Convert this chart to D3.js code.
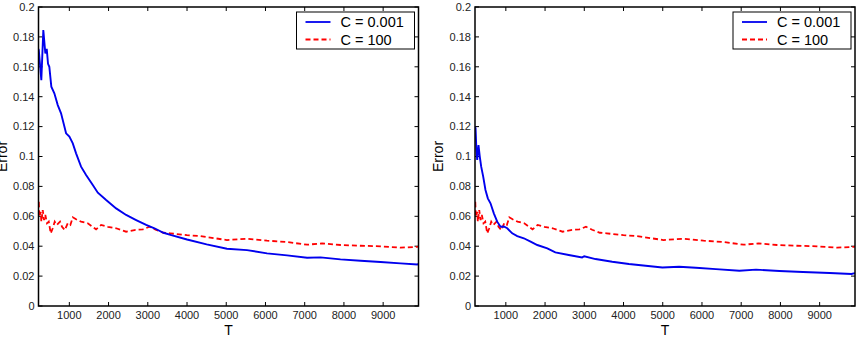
<!DOCTYPE html>
<html>
<head>
<meta charset="utf-8">
<script src="https://cdn.jsdelivr.net/npm/d3@7"></script>
<style>
  body { margin: 0; background: #fff; }
  svg { display: block; font-family: "Liberation Sans", Arial, sans-serif; }
</style>
</head>
<body>
<div id="chart"></div>
<script>
// T values and error
const leftBlueT = [214, 222, 286, 337, 388, 424, 457, 490, 541, 618, 705, 789, 917, 1001, 1088, 1172, 1299, 1427, 1598, 1726, 1938, 2193, 2448, 2703, 2958, 3170, 3400, 3600, 4000, 4500, 5018, 5529, 6040, 6551, 7061, 7402, 7912, 8423, 8934, 9444, 9870, 9901];
const leftBlueErr = [0.172, 0.171, 0.151, 0.1846, 0.169, 0.172, 0.162, 0.160, 0.1467, 0.1423, 0.1344, 0.1289, 0.1155, 0.1133, 0.1088, 0.1021, 0.0932, 0.0876, 0.0809, 0.0758, 0.0709, 0.0653, 0.0609, 0.0575, 0.0542, 0.052, 0.049, 0.0474, 0.0445, 0.0412, 0.0383, 0.0374, 0.0352, 0.0339, 0.0323, 0.0325, 0.0312, 0.0303, 0.0294, 0.0285, 0.0278, 0.0283];

const rightBlueT = [214, 228, 250, 270, 303, 336, 372, 423, 481, 541, 609, 694, 780, 865, 949, 1036, 1163, 1291, 1459, 1631, 1802, 2057, 2262, 2603, 2944, 3000, 3286, 3712, 4138, 4565, 4991, 5418, 5844, 6356, 6953, 7379, 7976, 8573, 9256, 9810, 9901];
const rightBlueErr = [0.12, 0.119, 0.1043, 0.0977, 0.1077, 0.0999, 0.0932, 0.0865, 0.0776, 0.072, 0.0687, 0.062, 0.0564, 0.053, 0.0532, 0.052, 0.0486, 0.0468, 0.0453, 0.043, 0.0408, 0.0386, 0.0359, 0.0341, 0.0325, 0.0333, 0.0314, 0.0296, 0.0281, 0.0269, 0.0258, 0.0263, 0.0256, 0.0247, 0.0236, 0.0243, 0.0234, 0.0227, 0.0221, 0.0214, 0.022];

const redT = [214, 222, 235, 271, 286, 322, 355, 388, 431, 475, 526, 577, 628, 679, 763, 814, 883, 960, 1026, 1088, 1172, 1299, 1470, 1682, 1810, 1981, 2193, 2448, 2660, 2875, 3043, 3200, 3400, 3572, 3997, 4338, 5018, 5529, 6040, 6551, 7061, 7444, 7912, 8423, 8934, 9444, 9870, 9901];
const redErr = [0.0691, 0.0691, 0.0597, 0.063, 0.0564, 0.0642, 0.0575, 0.0609, 0.0553, 0.0564, 0.0486, 0.052, 0.0564, 0.0542, 0.0564, 0.053, 0.0508, 0.0553, 0.0542, 0.0593, 0.058, 0.0564, 0.0553, 0.0513, 0.0542, 0.053, 0.052, 0.0497, 0.0508, 0.0513, 0.053, 0.051, 0.049, 0.0486, 0.0474, 0.0468, 0.0441, 0.045, 0.0437, 0.0428, 0.041, 0.0419, 0.0408, 0.0403, 0.0399, 0.039, 0.0396, 0.0398];

const xTicks = [1000, 2000, 3000, 4000, 5000, 6000, 7000, 8000, 9000];
const yTicks = [0, 0.02, 0.04, 0.06, 0.08, 0.1, 0.12, 0.14, 0.16, 0.18, 0.2];
const legendLabels = ["C = 0.001", "C = 100"];

const width = 380, height = 299;

const svg = d3.select("#chart")
  .append("svg")
    .attr("width", 860)
    .attr("height", 338);

const x = d3.scaleLinear().domain([214, 9901]).range([0, width]);
const y = d3.scaleLinear().domain([0, 0.2]).range([height, 0]);

function toPoints(ts, vs) {
  return ts.map((t, i) => ({t: t, v: vs[i]}));
}

const line = d3.line()
  .x(d => x(d.t))
  .y(d => y(d.v));

function drawPanel(left, id, blueT, blueErr) {
  const g = svg.append("g")
    .attr("transform", `translate(${left},7)`);

  g.append("clipPath").attr("id", id)
    .append("rect").attr("width", width).attr("height", height);

  // tick labels
  g.append("g").selectAll("text")
    .data(yTicks)
    .join("text")
      .attr("x", -4)
      .attr("y", d => y(d))
      .attr("dy", "0.35em")
      .attr("text-anchor", "end")
      .attr("font-size", 11)
      .attr("fill", "#222")
      .text(d => d3.format("")(d));

  g.append("g").selectAll("text")
    .data(xTicks)
    .join("text")
      .attr("x", d => x(d))
      .attr("y", height + 13)
      .attr("text-anchor", "middle")
      .attr("font-size", 11)
      .attr("fill", "#222")
      .text(d => d);

  // inside ticks on all four sides
  const tk = g.append("g").attr("stroke", "#000").attr("stroke-width", 1);
  tk.selectAll(".xb").data(xTicks).join("line")
    .attr("x1", d => x(d)).attr("x2", d => x(d))
    .attr("y1", height).attr("y2", height - 4);
  tk.selectAll(".xt").data(xTicks).join("line")
    .attr("x1", d => x(d)).attr("x2", d => x(d))
    .attr("y1", 0).attr("y2", 4);
  tk.selectAll(".yl").data(yTicks).join("line")
    .attr("x1", 0).attr("x2", 4)
    .attr("y1", d => y(d)).attr("y2", d => y(d));
  tk.selectAll(".yr").data(yTicks).join("line")
    .attr("x1", width).attr("x2", width - 4)
    .attr("y1", d => y(d)).attr("y2", d => y(d));

  // lines
  const lines = g.append("g").attr("clip-path", `url(#${id})`);
  lines.append("path")
    .datum(toPoints(redT, redErr))
    .attr("fill", "none")
    .attr("stroke", "#ff0000")
    .attr("stroke-width", 1.8)
    .attr("stroke-dasharray", "5,3")
    .attr("d", line);
  lines.append("path")
    .datum(toPoints(blueT, blueErr))
    .attr("fill", "none")
    .attr("stroke", "#0000ee")
    .attr("stroke-width", 1.9)
    .attr("d", line);

  // frame
  g.append("rect")
    .attr("width", width).attr("height", height)
    .attr("fill", "none")
    .attr("stroke", "#000")
    .attr("stroke-width", 1.5);

  // axis labels
  g.append("text")
    .attr("x", width / 2)
    .attr("y", height + 29)
    .attr("text-anchor", "middle")
    .attr("font-size", 14)
    .text("T");
  g.append("text")
    .attr("transform", `translate(-32,${height / 2}) rotate(-90)`)
    .attr("text-anchor", "middle")
    .attr("font-size", 14)
    .text("Error");

  // legend
  const lg = g.append("g").attr("transform", `translate(${width - 122},5)`);
  lg.append("rect")
    .attr("width", 118).attr("height", 37)
    .attr("fill", "#fff").attr("stroke", "#000").attr("stroke-width", 1);
  const colors = ["#0000ee", "#ff0000"];
  const dashes = [null, "5,3"];
  legendLabels.forEach((lab, i) => {
    const yy = 10 + i * 17.5;
    lg.append("line")
      .attr("x1", 9).attr("x2", 34)
      .attr("y1", yy).attr("y2", yy)
      .attr("stroke", colors[i]).attr("stroke-width", 1.8)
      .attr("stroke-dasharray", dashes[i]);
    lg.append("text")
      .attr("x", 44).attr("y", yy)
      .attr("dy", "0.36em")
      .attr("font-size", 14.5)
      .text(lab);
  });
}

drawPanel(38.5, "clipL", leftBlueT, leftBlueErr);
drawPanel(475, "clipR", rightBlueT, rightBlueErr);
</script>
</body>
</html>
